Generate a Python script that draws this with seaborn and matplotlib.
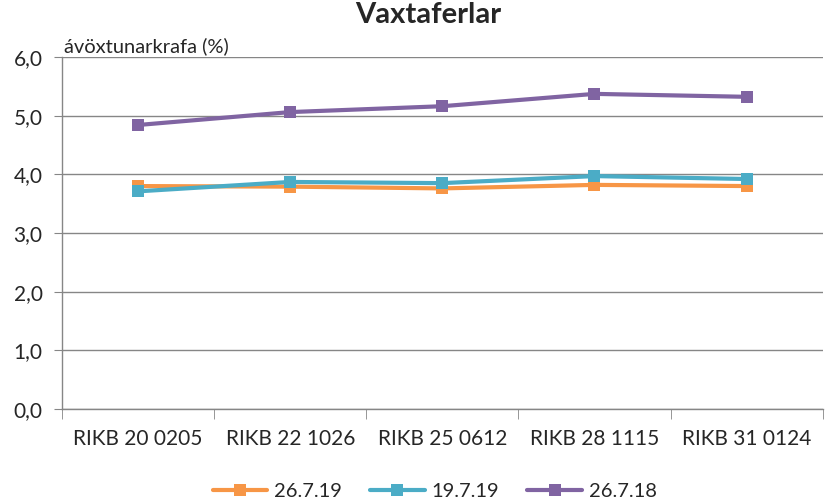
import pandas as pd
import matplotlib.pyplot as plt
import seaborn as sns

# Datos
flokkar = ['RIKB 20 0205', 'RIKB 22 1026', 'RIKB 25 0612', 'RIKB 28 1115', 'RIKB 31 0124']
raðir = ['26.7.19', '19.7.19', '26.7.18']
gildi_260719 = [3.80, 3.79, 3.76, 3.82, 3.80]
gildi_190719 = [3.71, 3.87, 3.85, 3.97, 3.92]
gildi_260718 = [4.84, 5.06, 5.16, 5.37, 5.32]

litir = {'26.7.19': '#F79646', '19.7.19': '#4BACC6', '26.7.18': '#8064A2'}

df = pd.DataFrame({
    'flokkur': flokkar * 3,
    'röð': [r for r in raðir for _ in flokkar],
    'krafa': gildi_260719 + gildi_190719 + gildi_260718,
})
df['x'] = df['flokkur'].map({f: i for i, f in enumerate(flokkar)})

sns.set_style('white')
plt.rcParams['font.family'] = ['Lato', 'DejaVu Sans']

fig = plt.figure(figsize=(8.25, 4.99), dpi=100)
ax = fig.add_axes([0.0752, 0.180, 0.922, 0.706])

sns.lineplot(data=df, x='x', y='krafa', hue='röð', hue_order=raðir, palette=litir,
             marker='s', markersize=9, markeredgewidth=0, linewidth=3, ax=ax)

ax.set_xlim(-0.5, 4.5)
ax.set_ylim(0, 6)
ax.set_yticks([0, 1, 2, 3, 4, 5, 6])
ax.set_yticklabels([f'{v},0' for v in range(7)], fontsize=15)
ax.set_xticks(range(5))
ax.set_xticklabels(flokkar, fontsize=15)
ax.set_xticks([i - 0.5 for i in range(6)], minor=True)
ax.tick_params(axis='x', which='major', length=0, pad=14)
ax.tick_params(axis='x', which='minor', length=7, color='#868686', direction='out', bottom=True)
ax.tick_params(axis='y', length=6, color='#868686', direction='out', left=True, pad=8)
ax.yaxis.grid(True, color='#868686', linewidth=1)
ax.set_axisbelow(True)
for s in ['top', 'right']:
    ax.spines[s].set_visible(False)
for s in ['left', 'bottom']:
    ax.spines[s].set_color('#868686')
    ax.spines[s].set_linewidth(1)
ax.set_xlabel('')
ax.set_ylabel('')

fig.text(0.078, 0.89, 'ávöxtunarkrafa (%)', fontsize=14.5, ha='left', va='bottom')
fig.suptitle('Vaxtaferlar', fontsize=21, fontweight='bold', x=0.519, y=0.995)

h, l = ax.get_legend_handles_labels()
ax.legend(h, l, loc='lower center', bbox_to_anchor=(0.49, -0.31), ncol=3, frameon=False,
          fontsize=14.5, handlelength=2.7, columnspacing=1.4, handletextpad=0.35)

fig.savefig('out.png', dpi=100)
